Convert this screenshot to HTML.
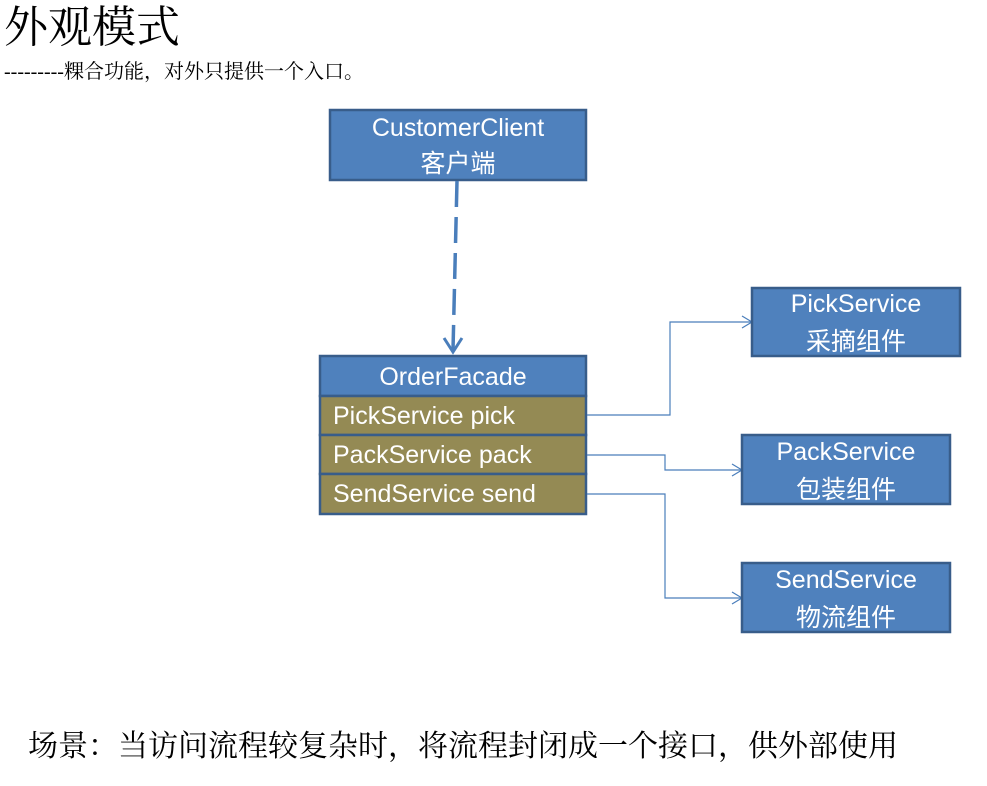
<!DOCTYPE html>
<html><head><meta charset="utf-8"><style>
html,body{margin:0;padding:0;background:#fff;}
body{width:987px;height:786px;overflow:hidden;position:relative;}
svg{position:absolute;left:0;top:0;}
.t{font-family:"Liberation Sans","Noto Sans CJK SC",sans-serif;fill:#fff;font-size:25px;text-anchor:middle;}
.l{font-family:"Liberation Sans","Noto Sans CJK SC",sans-serif;fill:#fff;font-size:25px;}
.k{font-family:"Liberation Serif","Noto Serif CJK SC","Noto Sans CJK SC",serif;fill:#000;}
</style></head><body>
<svg width="987" height="786" viewBox="0 0 987 786">
<text class="k" x="4" y="42" font-size="44">外观模式</text>
<text class="k" x="4" y="78" font-size="20">---------粿合功能，对外只提供一个入口。</text>

<rect x="330" y="110" width="256" height="70" fill="#4f81bd" stroke="#385d8a" stroke-width="2.5"/>
<text class="t" x="458" y="136">CustomerClient</text>
<text class="t" x="458" y="172">客户端</text>

<line x1="457" y1="181" x2="453" y2="350" stroke="#4a7ebb" stroke-width="3.5" stroke-dasharray="26,10"/>
<polyline points="444,338 453,352 462,338" fill="none" stroke="#4a7ebb" stroke-width="3"/>

<rect x="320" y="356" width="266" height="40" fill="#4f81bd" stroke="#385d8a" stroke-width="2.5"/>
<text class="t" x="453" y="385">OrderFacade</text>
<rect x="320" y="396" width="266" height="39" fill="#948a54" stroke="#385d8a" stroke-width="2.5"/>
<text class="l" x="333" y="424">PickService pick</text>
<rect x="320" y="435" width="266" height="39" fill="#948a54" stroke="#385d8a" stroke-width="2.5"/>
<text class="l" x="333" y="463">PackService pack</text>
<rect x="320" y="474" width="266" height="40" fill="#948a54" stroke="#385d8a" stroke-width="2.5"/>
<text class="l" x="333" y="502">SendService send</text>

<g fill="none" stroke="#4a7ebb" stroke-width="1.2">
<polyline points="587,415 670,415 670,322 751,322"/>
<polyline points="742,316 752,322 742,328"/>
<polyline points="587,455 665,455 665,470 741,470"/>
<polyline points="732,464 742,470 732,476"/>
<polyline points="587,494 665,494 665,598 741,598"/>
<polyline points="732,592 742,598 732,604"/>
</g>

<rect x="752" y="288" width="208" height="68" fill="#4f81bd" stroke="#385d8a" stroke-width="2.5"/>
<text class="t" x="856" y="312">PickService</text>
<text class="t" x="856" y="350">采摘组件</text>
<rect x="742" y="435" width="208" height="69" fill="#4f81bd" stroke="#385d8a" stroke-width="2.5"/>
<text class="t" x="846" y="460">PackService</text>
<text class="t" x="846" y="498">包装组件</text>
<rect x="742" y="563" width="208" height="69" fill="#4f81bd" stroke="#385d8a" stroke-width="2.5"/>
<text class="t" x="846" y="588">SendService</text>
<text class="t" x="846" y="626">物流组件</text>

<text class="k" x="28" y="756" font-size="30">场景：当访问流程较复杂时，将流程封闭成一个接口，供外部使用</text>
</svg>
</body></html>
